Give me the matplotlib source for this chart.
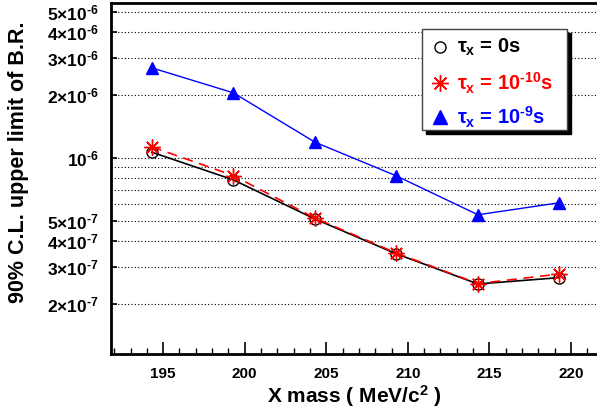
import numpy as np
import matplotlib
matplotlib.use('Agg')
import matplotlib.pyplot as plt
from matplotlib.patches import Rectangle
from matplotlib.lines import Line2D

plt.rcParams['font.family'] = ['Liberation Sans', 'DejaVu Sans']
plt.rcParams['font.weight'] = 'bold'
plt.rcParams['mathtext.fontset'] = 'custom'
plt.rcParams['mathtext.rm'] = 'Liberation Sans:bold'
plt.rcParams['mathtext.it'] = 'Liberation Sans:bold'
plt.rcParams['mathtext.bf'] = 'Liberation Sans:bold'

# data
mass = [194.3, 199.3, 204.3, 209.3, 214.3, 219.3]
br_tau0 = [1.065e-6, 7.85e-7, 5.1e-7, 3.47e-7, 2.49e-7, 2.67e-7]      # tau = 0s
br_tau10 = [1.13e-6, 8.23e-7, 5.15e-7, 3.5e-7, 2.5e-7, 2.78e-7]       # tau = 1e-10 s
br_tau9 = [2.70e-6, 2.05e-6, 1.19e-6, 8.2e-7, 5.34e-7, 6.1e-7]        # tau = 1e-9 s

HY = '\u2010'  # short hyphen for the exponents
x_ticks = [195, 200, 205, 210, 215, 220]
y_ticks = [2e-7, 3e-7, 4e-7, 5e-7, 1e-6, 2e-6, 3e-6, 4e-6, 5e-6]
y_tick_labels = [r'$2{\times}10^{%s7}$' % HY, r'$3{\times}10^{%s7}$' % HY,
                 r'$4{\times}10^{%s7}$' % HY, r'$5{\times}10^{%s7}$' % HY,
                 r'$10^{%s6}$' % HY, r'$2{\times}10^{%s6}$' % HY,
                 r'$3{\times}10^{%s6}$' % HY, r'$4{\times}10^{%s6}$' % HY,
                 r'$5{\times}10^{%s6}$' % HY]
y_grid_extra = [6e-7, 7e-7, 8e-7, 9e-7]

W, H = 597, 417
fig = plt.figure(figsize=(W / 100, H / 100), dpi=100)
ax = fig.add_axes([111 / W, 63 / H, 1 - 111 / W, (354 - 3) / H])

ax.plot(mass, br_tau0, color='black', lw=1.2, marker='o', ms=8,
        mfc='none', mec='black', mew=1.0, zorder=3)
ax.plot(mass, br_tau10, color='red', lw=1.2, ls=(0, (6, 4)), marker=(8, 2, 0),
        ms=11.5, mec='red', mew=1.0, zorder=4)
ax.plot(mass, br_tau9, color='blue', lw=1.0, marker='^', ms=9,
        mfc='blue', mec='blue', zorder=3)

ax.set_yscale('log')
ax.set_xlim(191.8, 221.6)
ax.set_ylim(1.15e-7, 5.52e-6)

ax.set_xticks(x_ticks)
ax.set_xticks(np.arange(192, 222, 1), minor=True)
ax.set_yticks(y_ticks)
ax.set_yticklabels(y_tick_labels)
ax.set_yticks(y_grid_extra, minor=True)
ax.yaxis.set_minor_formatter(plt.NullFormatter())

ax.tick_params(axis='x', which='major', direction='in', length=9, width=1.2,
               labelsize=11, pad=9)
ax.tick_params(axis='x', which='minor', direction='in', length=4, width=1.0)
ax.tick_params(axis='y', which='major', direction='in', length=4, width=1.2,
               labelsize=12.5, pad=9)
ax.tick_params(axis='y', which='minor', direction='in', length=0)

ax.grid(True, axis='y', which='both', ls=(0, (1, 2)), color='black', lw=0.8)
ax.grid(False, axis='x')

for side in ['left', 'top', 'bottom']:
    ax.spines[side].set_linewidth(2)
ax.spines['right'].set_visible(False)

fig.text(19 / W, 1 - 162 / H, '90% C.L. upper limit of B.R.', rotation=90,
         ha='center', va='center', fontsize=15.5, fontweight='bold')
fig.text(354 / W, 1 - 403 / H, r'X mass ( MeV/c$^{2}$ )', ha='center',
         va='baseline', fontsize=15, fontweight='bold')

# legend box with a hard shadow
bx0, by0, bx1, by1 = 422, 29, 567, 130
fig.patches.append(Rectangle(((bx0 + 4) / W, 1 - (by1 + 4) / H), (bx1 - bx0) / W,
                             (by1 - by0) / H, transform=fig.transFigure,
                             facecolor='black', edgecolor='black', zorder=5))
fig.patches.append(Rectangle((bx0 / W, 1 - by1 / H), (bx1 - bx0) / W,
                             (by1 - by0) / H, transform=fig.transFigure,
                             facecolor='white', edgecolor='#444444', lw=1.0, zorder=6))

entries = [
    (47, dict(marker='o', ms=8, mfc='none', mec='black', mew=1.0), r'$\tau_{x}$ = 0s', 'black'),
    (83, dict(marker=(8, 2, 0), ms=12, mec='red', mew=1.0), r'$\tau_{x}$ = 10$^{%s10}$s' % HY, 'red'),
    (117, dict(marker='^', ms=10, mfc='blue', mec='blue'), r'$\tau_{x}$ = 10$^{%s9}$s' % HY, 'blue'),
]
for yy, mk, label, col in entries:
    fig.add_artist(Line2D([440 / W], [1 - yy / H], transform=fig.transFigure,
                          ls='none', zorder=7, **mk))
    fig.text(457 / W, 1 - yy / H, label, color=col, ha='left', va='center',
             fontsize=14.5, fontweight='bold', zorder=7)

fig.savefig('out.png', dpi=100)
